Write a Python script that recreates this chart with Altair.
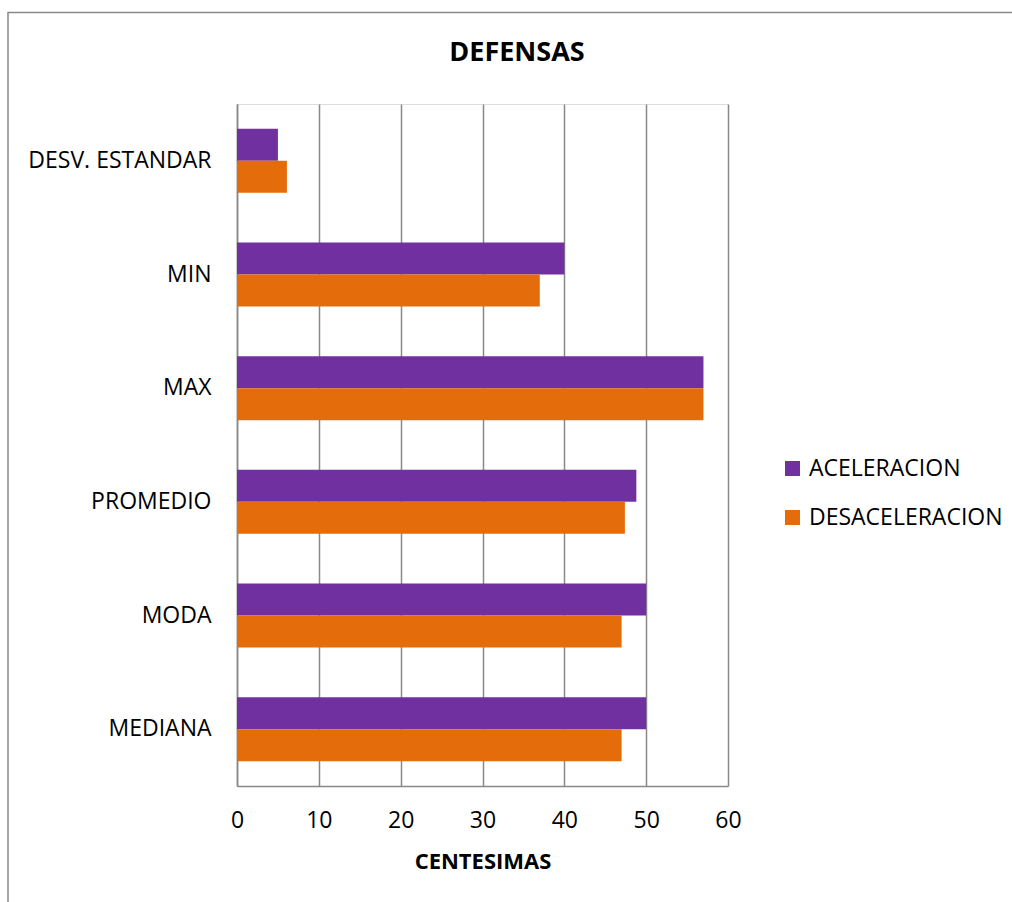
import altair as alt
import pandas as pd

categories = ["DESV. ESTANDAR", "MIN", "MAX", "PROMEDIO", "MODA", "MEDIANA"]
series = ["ACELERACION", "DESACELERACION"]
aceleracion = [5.0, 40, 57, 48.8, 50, 50]
desaceleracion = [6.1, 37, 57, 47.4, 47, 47]
colors = ["#7030A0", "#E46C0A"]
x_ticks = [0, 10, 20, 30, 40, 50, 60]
chart_title = "DEFENSAS"

rows = []
for c, a, d in zip(categories, aceleracion, desaceleracion):
    rows.append({"cat": c, "serie": series[0], "val": a})
    rows.append({"cat": c, "serie": series[1], "val": d})
df = pd.DataFrame(rows)

FONT = "Open Sans"
GRID = "#898989"
FS = 23

frame = alt.Chart(pd.DataFrame({"k": [0]})).mark_rect(
    fill=None, stroke=GRID, strokeWidth=1.5
).encode(
    x=alt.value(-229), x2=alt.value(1200),
    y=alt.value(-91.5), y2=alt.value(1100),
)

title = alt.Chart(pd.DataFrame({"t": [chart_title]})).mark_text(
    font=FONT, fontSize=27, fontWeight="bold", color="#000",
    align="center", baseline="middle"
).encode(text="t:N", x=alt.value(280), y=alt.value(-51))

bars = alt.Chart(df).mark_bar().encode(
    x=alt.X("val:Q", scale=alt.Scale(domain=[0, 60], nice=False, zero=True),
            axis=alt.Axis(values=x_ticks, title="CENTESIMAS", grid=True,
                          gridColor=GRID, gridWidth=1.5, domainColor=GRID,
                          domainWidth=1.5, ticks=False, labelPadding=23,
                          labelFlush=False,
                          labelFontSize=FS, labelFont=FONT, labelColor="#000",
                          titleFont=FONT, titleFontSize=22, titleFontWeight="bold",
                          titleColor="#000", titleY=75, titleBaseline="middle")),
    y=alt.Y("cat:N", sort=categories,
            scale=alt.Scale(paddingInner=0.4375, paddingOuter=0.21875),
            axis=alt.Axis(title=None, ticks=False, labelPadding=26,
                          domainColor=GRID, domainWidth=1.5, labelLimit=0,
                          labelFontSize=FS, labelFont=FONT, labelColor="#000")),
    yOffset=alt.YOffset("serie:N", sort=series),
    color=alt.Color("serie:N", sort=series,
                    scale=alt.Scale(domain=series, range=colors),
                    legend=alt.Legend(title=None, orient="none", legendX=544,
                                      legendY=353, symbolType="square",
                                      symbolSize=225, symbolStrokeWidth=0,
                                      labelFontSize=FS, labelFont=FONT,
                                      labelColor="#000", rowPadding=25,
                                      labelOffset=5, labelLimit=0)),
)

chart = alt.layer(frame, title, bars).properties(
    width=491, height=682,
    autosize=alt.AutoSizeParams(type="none"),
    padding={"left": 237, "top": 104, "right": 284, "bottom": 116},
).configure_view(stroke=None).configure(background="white")

chart.save("out.html", embed_options={"renderer": "svg", "actions": False})
